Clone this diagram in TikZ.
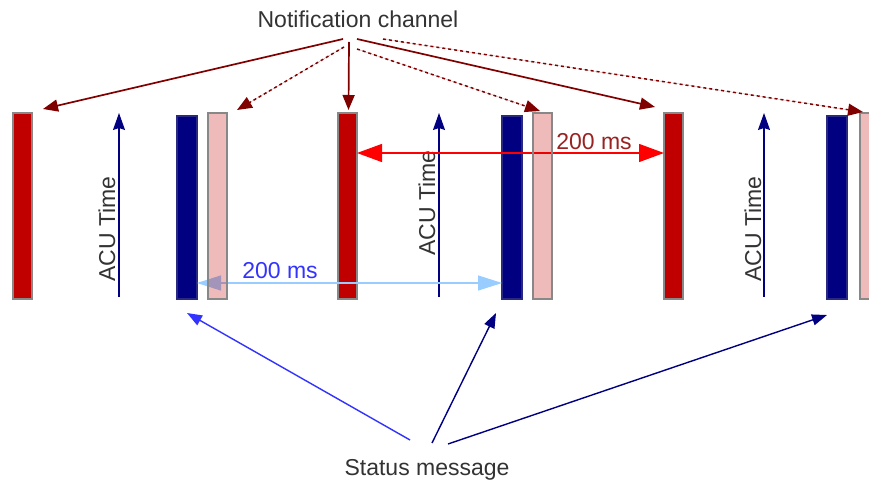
\documentclass[tikz,border=0pt]{standalone}
\usepackage{fontspec}
\setmainfont{Liberation Sans}
\usetikzlibrary{arrows.meta,calc}
\definecolor{barred}{HTML}{C00000}
\definecolor{barnavy}{HTML}{000080}
\definecolor{notif}{HTML}{800000}
\definecolor{labelgray}{HTML}{333333}
\definecolor{lightblue}{HTML}{99CCFF}
\definecolor{msgblue}{HTML}{3333FF}
\definecolor{rulered}{HTML}{FF0000}
\definecolor{labelred}{HTML}{992222}
\definecolor{bordergray}{HTML}{888888}

\begin{document}
\begin{tikzpicture}[x=1pt,y=-1pt,
  txt/.style={font=\fontsize{23}{27}\selectfont, text=labelgray, inner sep=0pt},
  bar/.style={draw=bordergray, line width=1.2pt, minimum width=19pt,
    minimum height=186pt, inner sep=0pt, outer sep=0pt, anchor=north west},
  redbar/.style={bar, fill=barred},
  navybar/.style={bar, fill=barnavy, draw=barnavy!70!bordergray, minimum width=20pt, minimum height=183pt},
  pinkbar/.style={bar, fill=barred, fill opacity=0.27, draw opacity=1},
  notifarrow/.style={draw=notif, line width=1.7pt, -{Triangle[length=15pt,width=12pt]}, fill=notif},
  notifdotted/.style={notifarrow, line width=1.5pt, dash pattern=on 3pt off 3pt},
  acu/.style={draw=barnavy, line width=1.2pt, -{Stealth[length=17pt,width=12pt,inset=2pt]}},
  msg/.style={line width=1.4pt, -{Triangle[length=15pt,width=11pt]}},
  interval/.style={line width=1.3pt},
]
\useasboundingbox (0,0) rectangle (869,486);

% red and navy bars
\node[redbar]  (r1) at (13,113) {};
\node[navybar] (b1) at (177,116) {};
\node[redbar]  (r2) at (338,113) {};
\node[navybar] (b2) at (502,116) {};
\node[redbar]  (r3) at (664,113) {};
\node[navybar] (b3) at (827,116) {};

% ACU time axes
\coordinate (a1b) at (119,297); \coordinate (a1t) at (119,113);
\coordinate (a2b) at (439,297); \coordinate (a2t) at (439,113);
\coordinate (a3b) at (764,297); \coordinate (a3t) at (764,113);
\draw[acu] (a1b) -- (a1t);
\draw[acu] (a2b) -- (a2t);
\draw[acu] (a3b) -- (a3t);
\node[txt, rotate=90] (t1) at (107,229) {ACU Time};
\node[txt, rotate=90] (t2) at (427,203) {ACU Time};
\node[txt, rotate=90] (t3) at (753,229) {ACU Time};

% 200 ms intervals
\draw[interval, draw=rulered, {Triangle[length=25pt,width=18pt]}-{Triangle[length=25pt,width=18pt]}, fill=rulered]
  ($(r2.north east)+(0,40)$) -- ($(r3.north west)+(0,40)$);
\node[txt, text=labelred] (ms1) at (594,142) {200 ms};
\draw[interval, draw=lightblue, {Triangle[length=24pt,width=15pt]}-{Triangle[length=24pt,width=15pt]}, fill=lightblue]
  ($(b1.south east)+(0,-16)$) -- ($(b2.south west)+(0,-16)$);
\node[txt, text=msgblue] (ms2) at (280,271) {200 ms};

% pale bars, drawn last so the lines show through
\node[pinkbar] (p1) at (208,113) {};
\node[pinkbar] (p2) at (533,113) {};
\node[pinkbar] (p3) at (860,113) {};

% notification channel
\node[txt] (nc) at (358,19) {Notification channel};
\coordinate (n1) at (343,39);
\coordinate (n2) at (344,47);
\coordinate (n3) at (349,42);
\coordinate (n4) at (357,49);
\coordinate (n5) at (357,39);
\coordinate (n6) at (383,39);
\draw[notifarrow]  (n1) -- ($(r1.north east)+(11,-4)$);
\draw[notifdotted] (n2) -- ($(p1.north east)+(10,-3)$);
\draw[notifarrow]  (n3) -- ($(r2.north)+(1,-3)$);
\draw[notifdotted] (n4) -- ($(p2.north west)+(7,-2)$);
\draw[notifarrow]  (n5) -- ($(r3.north west)+(-9,-6)$);
\draw[notifdotted] (n6) -- ($(p3.north west)+(3,-1)$);

% status message
\node[txt] (sm) at (427,470) {Status message};
\coordinate (m1) at (410,440);
\coordinate (m2) at (432,443);
\coordinate (m3) at (448,444);
\draw[msg, draw=msgblue, fill=msgblue] (m1) -- ($(b1.south)+(0,14)$);
\draw[msg, draw=barnavy, fill=barnavy] (m2) -- ($(b2.south)+(-16,14)$);
\draw[msg, draw=barnavy, fill=barnavy] (m3) -- ($(b3.south)+(-10,16)$);
\end{tikzpicture}
\end{document}
